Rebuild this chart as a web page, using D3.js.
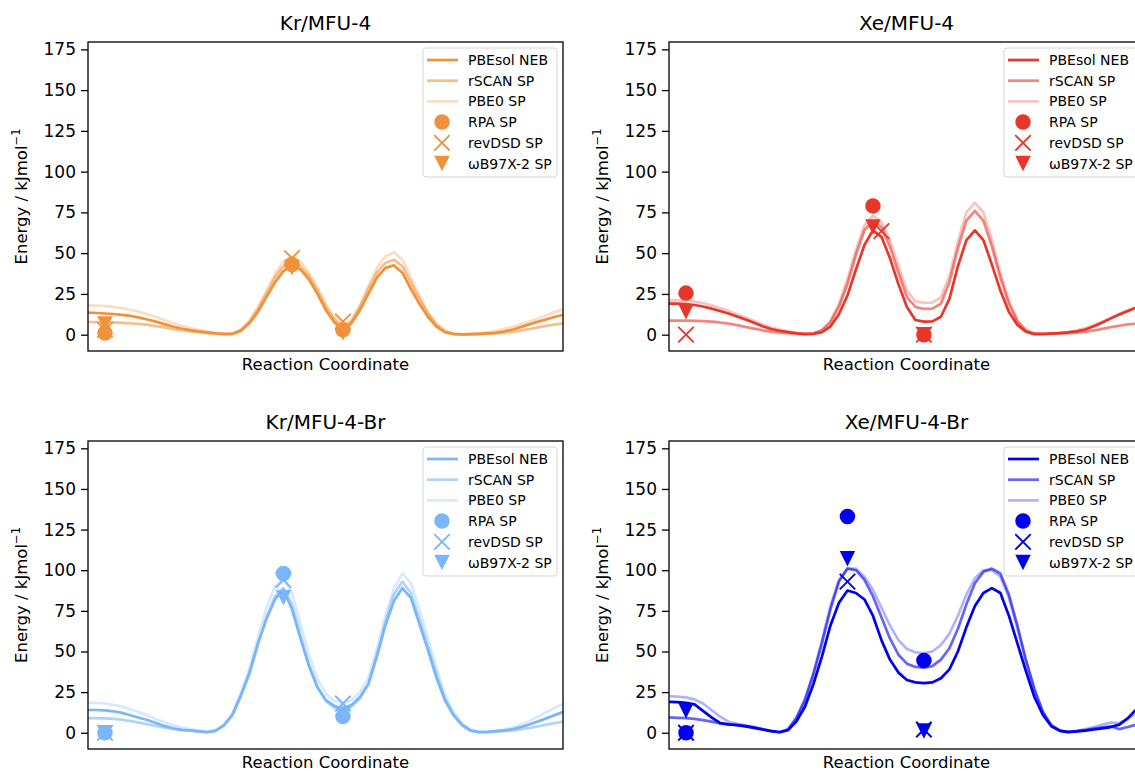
<!DOCTYPE html>
<html>
<head>
<meta charset="utf-8">
<script src="https://cdn.jsdelivr.net/npm/d3@7"></script>
<style>
  body { margin: 0; background: #fff; }
  text { font-family: "DejaVu Sans", sans-serif; }
</style>
</head>
<body>
<div id="chart"></div>
<script>
// image index along the NEB path (x axis has no ticks)
const images = [-2,-1,0,1,2,3,4,5,6,7,8,9,10,11,12,13,14,15,16,17,18,19,20,21,22,23,24,25,26,27,28,29,30,31,32,33,34,35,36,37,38,39,40,41,42,43,44,45,46,47,48,49,50,51,52,53,54];

const yTicks = [0, 25, 50, 75, 100, 125, 150, 175];
const titles = ["Kr/MFU-4", "Xe/MFU-4", "Kr/MFU-4-Br", "Xe/MFU-4-Br"];
const lineNames = ["PBEsol NEB", "rSCAN SP", "PBE0 SP"];
const markNames = ["RPA SP", "revDSD SP", "\u03c9B97X-2 SP"];

// Kr/MFU-4
const krPBEsol = [13.5,13.3,13,12.7,12.2,11.5,10.5,9.3,8,6.5,5,3.8,2.8,2,1.4,0.9,0.4,0.5,2.5,7,14,23,32,39,42.5,40,34,25,15,7.5,3.5,7,15,25,35,41,42.5,38,28,19,11,5,1.5,0.4,0.2,0.3,0.5,0.8,1.2,2,3.2,4.8,6.5,8,9.5,11,12.3];
const krRSCAN = [7.8,7.7,7.6,7.5,7.3,7,6.6,6,5.3,4.5,3.6,2.8,2.1,1.5,1,0.6,0.3,0.5,2.8,8,15.5,25,35,42,45,42,36,27,17,9,4.5,8,17,28,38,44,46,42,32,22,13,6,2,0.5,0.2,0.2,0.3,0.5,0.8,1.2,1.8,2.6,3.5,4.5,5.5,6.3,7];
const krPBE0 = [18,17.8,17.5,17,16.3,15.3,14,12.5,10.8,9,7.2,5.6,4.2,3,2,1.2,0.6,0.8,3,8.5,17,27,37,45,48,45,38,29,19,10.5,5.5,9,18,30,41,48,50.5,46,35,24,14,7,2.5,0.8,0.4,0.5,0.9,1.5,2.4,3.6,5,6.6,8.3,10,12,14,15.8];
const krSites = [0, 22, 28];
const krRPA = [1, 43, 3];
const krRevDSD = [3, 47, 8];
const krWB97 = [6.5, 41, 1];

// Xe/MFU-4
const xePBEsol = [19,19,18.8,18.2,17.3,16,14.5,13,11.2,9.3,7.3,5.2,3.5,2.4,1.6,0.9,0.3,0.5,1.5,5,12.5,24,40,55,64,60,47,31,17,9,8,8.2,11,22,42,58,64,58,43,27,14,6,1.8,0.3,0.4,0.7,1,1.4,2,3.2,5.2,7.5,10,12.4,14.6,16.6,18];
const xeRSCAN = [8.6,8.6,8.6,8.5,8.3,8,7.5,6.8,5.9,4.8,3.7,2.7,1.9,1.3,0.9,0.5,0.3,0.7,2.5,7.5,17,31,49,64,70,66,54,38,23,17,15.8,16,19,32,53,70,76,70,54,35,19,8,2.5,0.5,0.5,0.6,0.8,1,1.3,1.8,2.6,3.6,4.6,5.5,6.3,6.8,7];
const xePBE0 = [21,21,20.8,20.3,19.4,18,16.4,14.6,12.6,10.5,8.4,6.4,4.6,3.2,2.1,1.2,0.6,1,3,8.5,19,34,52,67,73,69,58,42,27,20.5,19.5,19.7,23,36,57,75,81,75,58,38,21,9,3,0.8,0.6,0.8,1.2,1.8,2.7,4,5.8,8,10.4,12.8,15,17,18.8];
const xeSites = [0, 22, 28];
const xeDSDSites = [0, 23, 28];
const xeRPA = [25.5, 79, 0];
const xeRevDSD = [0, 63.5, 0];
const xeWB97 = [14, 66, 0];

// Kr/MFU-4-Br
const krBrPBEsol = [14,14,13.8,13.2,12.2,10.8,9.2,7.8,6,4.2,2.7,1.8,1.4,0.9,0.3,1.2,4.5,11,23,37,55,70,82,88,76,58,41,28,20,16.5,15,17,22,30,47,66,81,89,83,67,51,34,20,11,5,1.5,0.4,0.5,1,1.5,2.2,3.5,5.2,7,9,11,13];
const krBrRSCAN = [9,9,8.8,8.5,8,7.2,6.2,5.2,4.2,3.2,2.3,1.7,1.3,0.8,0.3,1.2,4.5,11,23,36,54,71,84,89,79,60,42,28,19.5,15.5,14,16,21,30,48,68,85,93,86,70,53,36,21,11,4.5,1.2,0.3,0.4,0.7,1,1.5,2.2,3,4,5,6,7];
const krBrPBE0 = [18.5,18.3,18,17.2,16,14.4,12.6,10.6,8.5,6.5,4.7,3.3,2.3,1.5,0.8,1.8,5,12,25,40,59,77,90,95,86,67,48,33,24,19.5,18,20,25,34,52,72,89,98,92,76,58,40,24,13,6,2,0.6,0.7,1.2,2,3.2,5,7.3,10,12.8,15.5,18];
const krBrSites = [0, 21, 28];
const krBrRPA = [0, 98, 10];
const krBrRevDSD = [0, 94, 18];
const krBrWB97 = [0, 83, 11.5];

// Xe/MFU-4-Br
const xeBrPBEsol = [19,18.8,18.4,17.5,13.5,9.5,6,5.2,4.6,3.9,3,2,1,0.3,1.5,7,16,30,47,66,80,87.5,86,82,72,57,45,37,32.5,31,30.5,31,33.5,39,50,65,78,86,89,86,72,55,38,22,11,4,1.2,0.4,0.8,1.3,2,2.7,3.5,5,9,14.5,19];
const xeBrRSCAN = [9.5,9.2,9,8.5,7.8,6.8,5.8,5.2,4.8,4.2,3.3,2.2,1.1,0.3,2,9,20,36,55,76,93,101,100,94,84,71,58,48,42.5,40.5,40,41,45,52,64,79,92,99,101,98,85,66,45,27,13,4.5,1.3,0.5,1,1.7,2.5,3.3,4,2.2,3.5,5,7];
const xeBrPBE0 = [22.5,22.2,21.8,20.5,18,14,10,6.8,5.5,4.6,3.5,2.3,1.2,0.5,2.2,9.5,21,37,57,78,94,101,101,96,88,77,66,57,51.5,49.5,49,50,54,61,72,85,95,100,100,96,83,64,44,26,12.5,4.5,1.4,0.6,1.2,2.2,3.5,5,6.2,6,8.5,12,16];
const xeBrSites = [0, 19, 28];
const xeBrRPA = [0, 133, 44.5];
const xeBrRevDSD = [0, 93, 2];
const xeBrWB97 = [13.5, 107, 1];

const W = 1135, H = 771;
const axW = 475;

const svg = d3.select("#chart").append("svg")
    .attr("width", W)
    .attr("height", H);

const panels = [
    {title: titles[0], color: "#f0923c", left: 88, top: 42, bottom: 351,
     lines: [krPBEsol, krRSCAN, krPBE0],
     sites: [krSites, krSites, krSites], marks: [krRPA, krRevDSD, krWB97]},
    {title: titles[1], color: "#e9362a", left: 669, top: 42, bottom: 351,
     lines: [xePBEsol, xeRSCAN, xePBE0],
     sites: [xeSites, xeDSDSites, xeSites], marks: [xeRPA, xeRevDSD, xeWB97]},
    {title: titles[2], color: "#7ab6f9", left: 88, top: 441, bottom: 749,
     lines: [krBrPBEsol, krBrRSCAN, krBrPBE0],
     sites: [krBrSites, krBrSites, krBrSites], marks: [krBrRPA, krBrRevDSD, krBrWB97]},
    {title: titles[3], color: "#0000f0", left: 669, top: 441, bottom: 749,
     lines: [xeBrPBEsol, xeBrRSCAN, xeBrPBE0],
     sites: [xeBrSites, xeBrSites, xeBrSites], marks: [xeBrRPA, xeBrRevDSD, xeBrWB97]}
];

const lineAlpha = [1, 0.6, 0.3];
const ms = 7.75; // half marker size

// marker drawers
function drawMarker(g, kind, cx, cy, color) {
    if (kind === 0) {
        g.append("circle").attr("cx", cx).attr("cy", cy).attr("r", ms).attr("fill", color);
    } else if (kind === 1) {
        g.append("path")
            .attr("d", `M${cx-ms},${cy-ms}L${cx+ms},${cy+ms}M${cx-ms},${cy+ms}L${cx+ms},${cy-ms}`)
            .attr("stroke", color).attr("stroke-width", 1.9).attr("fill", "none");
    } else {
        g.append("path")
            .attr("d", `M${cx-ms},${cy-ms}L${cx+ms},${cy-ms}L${cx},${cy+ms}Z`)
            .attr("fill", color);
    }
}

panels.forEach(function(p, pi) {
    const x = d3.scaleLinear().domain([-2, 53.9]).range([p.left, p.left + axW]);
    const y = d3.scaleLinear().domain([-10, 179.5]).range([p.bottom, p.top]);
    const g = svg.append("g");

    // clip to the axes box
    g.append("defs").append("clipPath").attr("id", "clip" + pi)
        .append("rect")
        .attr("x", p.left).attr("y", p.top)
        .attr("width", axW).attr("height", p.bottom - p.top);

    // y axis
    const yAxis = g.append("g")
        .attr("transform", "translate(" + p.left + ",0)")
        .call(d3.axisLeft(y).tickValues(yTicks).tickSize(7).tickPadding(5));
    yAxis.select(".domain").remove();
    yAxis.selectAll("line").attr("stroke", "#000").attr("stroke-width", 1.3);
    yAxis.selectAll("text").style("font-size", "17px").attr("fill", "#000")
        .style("font-family", "DejaVu Sans, sans-serif");

    // lines
    const plot = g.append("g").attr("clip-path", "url(#clip" + pi + ")");
    const line = d3.line()
        .x(function(d, j) { return x(images[j]); })
        .y(function(d) { return y(d); });

    p.lines.forEach(function(vals, k) {
        plot.append("path")
            .datum(vals)
            .attr("d", line)
            .attr("fill", "none")
            .attr("stroke", p.color)
            .attr("stroke-opacity", lineAlpha[k])
            .attr("stroke-width", 2.7)
            .attr("stroke-linejoin", "round");
    });

    // single point markers
    p.marks.forEach(function(vals, k) {
        vals.forEach(function(v, j) {
            drawMarker(plot, k, x(p.sites[k][j]), y(v), p.color);
        });
    });

    // frame
    g.append("rect")
        .attr("x", p.left).attr("y", p.top)
        .attr("width", axW).attr("height", p.bottom - p.top)
        .attr("fill", "none").attr("stroke", "#000").attr("stroke-width", 1.3);

    // title and labels
    g.append("text")
        .attr("x", p.left + axW / 2).attr("y", p.top - 12)
        .attr("text-anchor", "middle")
        .style("font-size", "20px")
        .text(p.title);

    g.append("text")
        .attr("x", p.left + axW / 2).attr("y", p.bottom + 19)
        .attr("text-anchor", "middle")
        .style("font-size", "16.5px")
        .text("Reaction Coordinate");

    const yl = g.append("text")
        .attr("transform", "translate(" + (p.left - 61) + "," + ((p.top + p.bottom) / 2) + ") rotate(-90)")
        .attr("text-anchor", "middle")
        .style("font-size", "16.5px");
    yl.append("tspan").text("Energy / kJmol");
    yl.append("tspan").attr("dy", -7).style("font-size", "11.5px").text("\u22121");

    // legend
    const right = p.left + axW;
    const leg = g.append("g");
    leg.append("rect")
        .attr("x", right - 140).attr("y", p.top + 6)
        .attr("width", 134).attr("height", 129)
        .attr("rx", 3)
        .attr("fill", "#fff").attr("fill-opacity", 0.8)
        .attr("stroke", "#d5d5d5").attr("stroke-width", 1);

    const names = lineNames.concat(markNames);
    names.forEach(function(name, k) {
        const ey = p.top + 18 + k * 20.7;
        if (k < 3) {
            leg.append("line")
                .attr("x1", right - 136).attr("x2", right - 105)
                .attr("y1", ey).attr("y2", ey)
                .attr("stroke", p.color)
                .attr("stroke-opacity", lineAlpha[k])
                .attr("stroke-width", 2.7);
        } else {
            drawMarker(leg, k - 3, right - 121, ey, p.color);
        }
        leg.append("text")
            .attr("x", right - 95).attr("y", ey)
            .attr("dy", "0.36em")
            .style("font-size", "14px")
            .text(name);
    });
});
</script>
</body>
</html>
